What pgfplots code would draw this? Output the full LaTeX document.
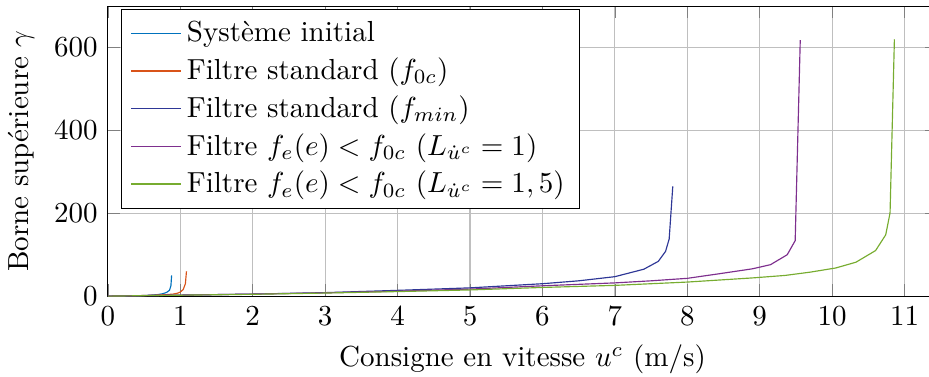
\documentclass[border=0pt]{standalone}
\usepackage{pgfplots}
\pgfplotsset{compat=1.18}
\definecolor{c1}{RGB}{0,114,189}
\definecolor{c2}{RGB}{217,83,25}
\definecolor{c3}{RGB}{46,55,150}
\definecolor{c4}{RGB}{126,47,142}
\definecolor{c5}{RGB}{119,172,48}
\begin{document}
\begin{tikzpicture}
\begin{axis}[
  scale only axis,
  width=285.9pt, height=100pt,
  xmin=0, xmax=11.45, ymin=0, ymax=700,
  xtick={0,1,...,11}, ytick={0,200,400,600},
  grid=major,
  xlabel={Consigne en vitesse $u^c$ (m/s)},
  ylabel={Borne sup\'erieure $\gamma$},
  legend cell align=left,
  legend style={at={(0.016,0.989)}, anchor=north west},
]
\addplot[c1] coordinates {(0,0) (0.2,0.3) (0.4,1) (0.5,1.5) (0.6,2.5) (0.7,4) (0.76,6) (0.81,9) (0.85,14) (0.87,25) (0.88,50)};
\addlegendentry{Syst\`eme initial}
\addplot[c2] coordinates {(0,0) (0.5,1.5) (0.8,3.5) (0.9,5) (0.96,7) (1.0,10) (1.04,16) (1.07,30) (1.085,60)};
\addlegendentry{Filtre standard ($f_{0c}$)}
\addplot[c3] coordinates {(0,0) (1,2.5) (2,5) (3,8.5) (4,14) (5,20) (6,30) (6.5,37) (7,47) (7.4,65) (7.6,84) (7.7,108) (7.75,138) (7.8,265)};
\addlegendentry{Filtre standard ($f_{min}$)}
\addplot[c4] coordinates {(0,0) (1,2.5) (2,5) (3,8) (4,12) (5,17) (6,25) (7,32) (7.5,37) (8,43) (8.4,53) (8.9,66) (9.15,76) (9.38,100) (9.49,134) (9.56,618)};
\addlegendentry{Filtre $f_e(e) < f_{0c}$ ($L_{\dot u^c} = 1$)}
\addplot[c5] coordinates {(0,0) (1,2.3) (2,4.5) (3,7.5) (4,11) (5,15) (6,21) (7,26) (8,34) (8.9,44) (9.35,50) (9.7,58) (10.05,68) (10.33,82) (10.6,110) (10.74,148) (10.8,201) (10.86,620)};
\addlegendentry{Filtre $f_e(e) < f_{0c}$ ($L_{\dot u^c} = 1,5$)}
\end{axis}
\pgfresetboundingbox
\path[use as bounding box] ([xshift=-37.2pt,yshift=-27.6pt]current axis.south west) rectangle ([xshift=283.1pt,yshift=102.1pt]current axis.south west);
\end{tikzpicture}
\end{document}
